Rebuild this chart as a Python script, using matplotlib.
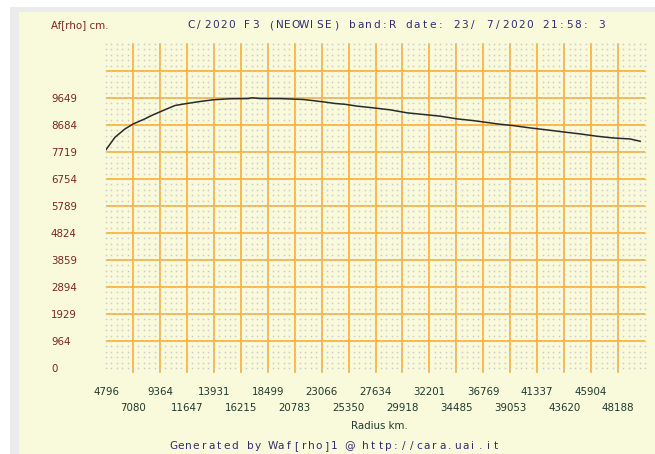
import numpy as np
import matplotlib
matplotlib.use('Agg')
import matplotlib.pyplot as plt
from matplotlib.patches import Rectangle

# Af[rho] profile, C/2020 F3 (NEOWISE), band R
radius_km = [4796, 5559, 6406, 7110, 7958, 8780, 9627, 10644, 11636, 12763,
             13865, 15306, 16832, 17171, 17849, 19544, 21494, 22257, 23358,
             24206, 25054, 26071, 27427, 28868, 30309, 32004, 33106, 34547,
             35903, 37344, 37937, 39293, 40734, 42175, 43531, 44972, 46413,
             47769, 49210, 50058]
afrho_cm = [7801, 8246, 8544, 8724, 8878, 9047, 9201, 9381, 9452, 9524,
            9585, 9622, 9628, 9657, 9630, 9628, 9596, 9560, 9503,
            9453, 9424, 9359, 9298, 9226, 9119, 9047, 9000, 8903,
            8842, 8760, 8724, 8663, 8580, 8508, 8437, 8365, 8282,
            8221, 8185, 8103]

x_tick_labels = ['4796', '7080', '9364', '11647', '13931', '16215', '18499',
                 '20783', '23066', '25350', '27634', '29918', '32201', '34485',
                 '36769', '39053', '41337', '43620', '45904', '48188']
y_tick_labels = ['0', '964', '1929', '2894', '3859', '4824', '5789', '6754',
                 '7719', '8684', '9649']

W, H = 655, 454
panel = '#F9F9DC'
orange = '#FFA820'
navy = '#2E2E72'
red = '#7B2525'
green = '#1F3A2E'

x_step = 2283.7
y_step = 964.9
x_ticks = [4796 + i * x_step for i in range(len(x_tick_labels))]
y_ticks = [i * y_step for i in range(len(y_tick_labels))]
x_max = 4796 + 20 * x_step
y_max = 12 * y_step

fig = plt.figure(figsize=(W / 100, H / 100), dpi=100, facecolor=panel)

# window border strips
def px_rect(x, y, w, h, color):
    fig.add_artist(Rectangle((x / W, 1 - (y + h) / H), w / W, h / H,
                             transform=fig.transFigure, color=color, lw=0))

px_rect(0, 0, W, 7, 'white')
px_rect(0, 7, W, 5, '#EBEBEB')
px_rect(0, 7, 10, H - 7, 'white')
px_rect(10, 12, 9, H - 12, '#EBEBEB')

left, right, top, bottom = 106, 645, 44, 368
ax = fig.add_axes([left / W, 1 - bottom / H, (right - left) / W, (bottom - top) / H])
ax.set_facecolor(panel)
for s in ax.spines.values():
    s.set_visible(False)
ax.set_xlim(4796, x_max)
ax.set_ylim(0, y_max)

# orange major grid
for xv in x_ticks[1:]:
    ax.axvline(xv, ymin=-0.012, color=orange, lw=1.15, zorder=1, clip_on=False)
for k in range(1, 12):
    ax.axhline(k * y_step, color=orange, lw=1.15, zorder=1)

# dotted minor lattice
gx = 4796 + np.arange(101) * x_step / 5
gy = np.arange(61) * y_step / 5
mx, my = np.meshgrid(gx, gy)
ax.plot(mx.ravel(), my.ravel(), ls='none', marker='s', ms=1.1, mew=0,
        color='#CACACA', zorder=2, clip_on=False)

ax.plot(radius_km, afrho_cm, color='#2A2A2A', lw=1.1, zorder=3)

# axis labels
ax.set_yticks(y_ticks)
ax.set_yticklabels(y_tick_labels)
ax.tick_params(axis='y', length=0, pad=39.6, labelsize=7.4, labelcolor=red)
for lab in ax.get_yticklabels():
    lab.set_ha('left')

ax.set_xticks(x_ticks[0::2])
ax.set_xticklabels(x_tick_labels[0::2])
ax.set_xticks(x_ticks[1::2], minor=True)
ax.set_xticklabels(x_tick_labels[1::2], minor=True)
ax.tick_params(axis='x', which='major', length=0, pad=13.5, labelsize=7.4, labelcolor=green)
ax.tick_params(axis='x', which='minor', length=0, pad=25.0, labelsize=7.4, labelcolor=green)

fig.text(51 / W, 1 - 25 / H, 'Af[rho] cm.', ha='left', va='center',
         fontsize=7.4, color=red)
fig.text(379 / W, 1 - 426 / H, 'Radius km.', ha='center', va='center',
         fontsize=7.4, color=green)


def spaced_text(x0, y, s, pitch, **kw):
    for i, c in enumerate(s):
        if c != ' ':
            fig.text((x0 + i * pitch) / W, 1 - y / H, c, ha='center', va='center', **kw)


spaced_text(191, 25, 'C/2020 F3 (NEOWISE) band:R date: 23/ 7/2020 21:58: 3', 8.06,
            fontsize=7.6, color=navy)
spaced_text(173, 446, 'Generated by Waf[rho]1 @ http://cara.uai.it', 7.69,
            fontsize=7.6, color=navy)

fig.savefig('out.png', dpi=100, facecolor=panel)
